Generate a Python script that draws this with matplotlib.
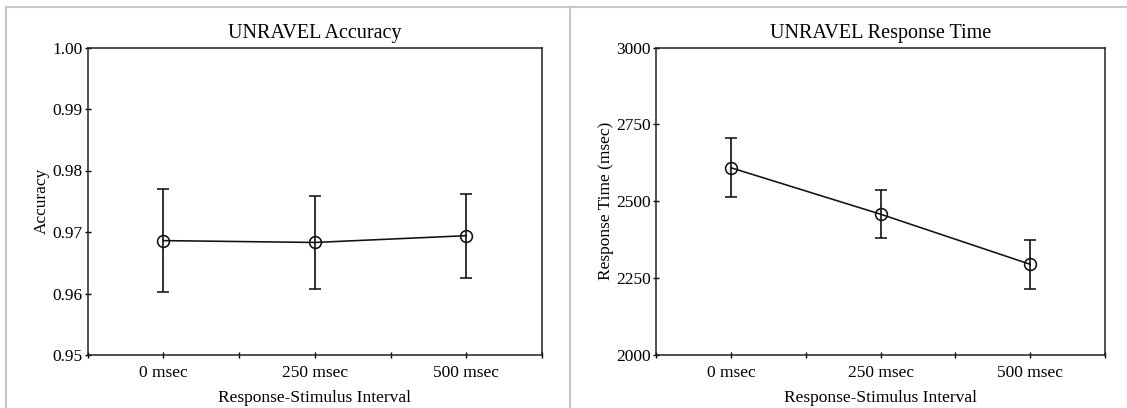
import matplotlib
matplotlib.use("Agg")
import matplotlib.pyplot as plt
from matplotlib.lines import Line2D

categories = ["0 msec", "250 msec", "500 msec"]
acc_mean = [0.9686, 0.9683, 0.9694]
acc_low = [0.9603, 0.9607, 0.9626]
acc_high = [0.9770, 0.9758, 0.9762]
rt_mean = [2609, 2458, 2295]
rt_low = [2514, 2380, 2216]
rt_high = [2706, 2537, 2374]

plt.rcParams['font.family'] = ['Liberation Serif', 'DejaVu Serif']

W, H = 1127, 408
fig = plt.figure(figsize=(W / 100, H / 100), dpi=100)
fig.patch.set_facecolor('white')

def px_axes(x0, x1, y0, y1):
    return fig.add_axes([x0 / W, 1 - y1 / H, (x1 - x0) / W, (y1 - y0) / H])

ax1 = px_axes(87.5, 542, 47.5, 355)
ax2 = px_axes(656, 1105, 47.5, 355)

def draw(ax, mean, low, high, ylim, yticks, yticklabels, title, ylabel):
    x = list(range(len(categories)))
    yerr = [[m - l for m, l in zip(mean, low)], [h - m for m, h in zip(mean, high)]]
    ax.errorbar(x, mean, yerr=yerr, color='#111111', lw=1.15, elinewidth=1.2,
                capsize=4.0, capthick=1.2, marker='o', ms=8.5, mfc='none',
                mec='#111111', mew=1.15, zorder=3)
    ax.set_xlim(-0.5, 2.5)
    ax.set_ylim(*ylim)
    ax.set_xticks(x)
    ax.set_xticklabels(categories)
    ax.set_xticks([-0.5, 0.5, 1.5, 2.5], minor=True)
    ax.set_yticks(yticks)
    ax.set_yticklabels(yticklabels)
    ax.tick_params(axis='both', which='both', direction='inout', length=5,
                   width=1.0, labelsize=12.5, color='black')
    ax.tick_params(axis='x', pad=5)
    ax.tick_params(axis='y', pad=1)
    for s in ax.spines.values():
        s.set_linewidth(1.1)
        s.set_color('#222222')
    ax.set_title(title, fontsize=14.5, pad=7)
    ax.set_xlabel("Response-Stimulus Interval", fontsize=12.5, labelpad=6)
    ax.set_ylabel(ylabel, fontsize=12.5, labelpad=2)

draw(ax1, acc_mean, acc_low, acc_high, (0.95, 1.00),
     [0.95, 0.96, 0.97, 0.98, 0.99, 1.00],
     ["0.95", "0.96", "0.97", "0.98", "0.99", "1.00"],
     "UNRAVEL Accuracy", "Accuracy")
draw(ax2, rt_mean, rt_low, rt_high, (2000, 3000),
     [2000, 2250, 2500, 2750, 3000],
     ["2000", "2250", "2500", "2750", "3000"],
     "UNRAVEL Response Time", "Response Time (msec)")

gray = '#c8c8c8'
def hline(y, x0, x1):
    fig.add_artist(Line2D([x0 / W, x1 / W], [1 - y / H, 1 - y / H], color=gray, lw=1.5))
def vline(x, y0, y1):
    fig.add_artist(Line2D([x / W, x / W], [1 - y0 / H, 1 - y1 / H], color=gray, lw=1.5))

hline(6.5, 6, W)
vline(6, 6.5, H)
vline(570, 6.5, H)

fig.savefig("out.png", dpi=100, facecolor='white')
